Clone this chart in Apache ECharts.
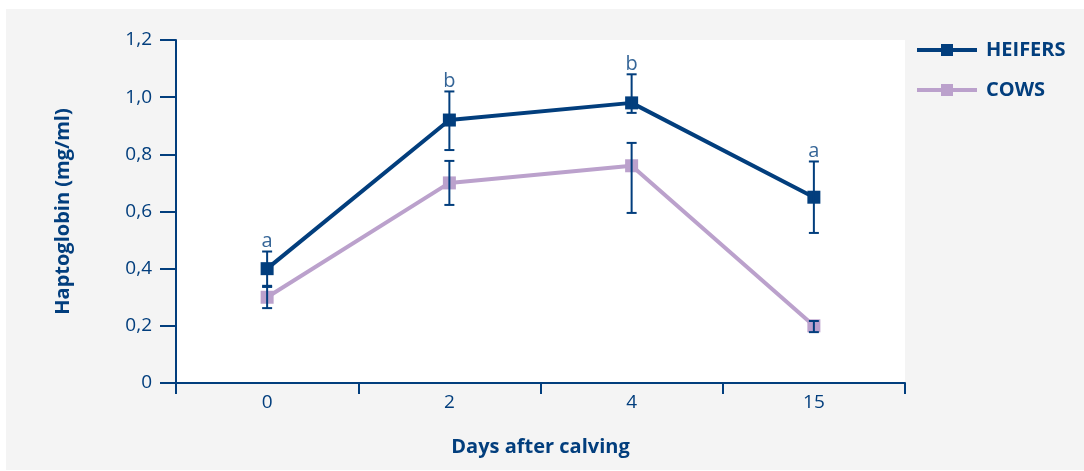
<!DOCTYPE html>
<html>
<head>
<meta charset="utf-8">
<script src="https://cdn.jsdelivr.net/npm/echarts@6/dist/echarts.min.js"></script>
<style>
html,body{margin:0;padding:0;background:#fff;}
#bg{position:absolute;left:6px;top:9px;width:1078px;height:461px;background:#f4f4f4;}
#chart{position:absolute;left:0;top:0;width:1084px;height:471px;}
</style>
</head>
<body>
<div id="bg"></div>
<div id="chart"></div>
<script>
const categories = ['0', '2', '4', '15'];
const heifers = [0.40, 0.92, 0.98, 0.65];
const cows = [0.30, 0.70, 0.76, 0.20];
const heifersErrLow = [0.34, 0.815, 0.945, 0.525];
const heifersErrHigh = [0.46, 1.02, 1.08, 0.775];
const cowsErrLow = [0.262, 0.623, 0.595, 0.178];
const cowsErrHigh = [0.336, 0.777, 0.84, 0.217];
const letters = ['a', 'b', 'b', 'a'];
const yTicks = [0, 0.2, 0.4, 0.6, 0.8, 1.0, 1.2];

const NAVY = '#023e7d';
const LILAC = '#bba1cc';
const FONT = '"Open Sans", "Noto Sans", sans-serif';

const errData = [];
categories.forEach((c, i) => {
  errData.push([i, heifersErrLow[i], heifersErrHigh[i]]);
  errData.push([i, cowsErrLow[i], cowsErrHigh[i]]);
});

function renderErr(params, api) {
  const x = api.value(0);
  const lo = api.coord([x, api.value(1)]);
  const hi = api.coord([x, api.value(2)]);
  const w = 5;
  const style = { stroke: NAVY, lineWidth: 2 };
  return {
    type: 'group',
    children: [
      { type: 'line', shape: { x1: hi[0], y1: hi[1], x2: lo[0], y2: lo[1] }, style },
      { type: 'line', shape: { x1: hi[0] - w, y1: hi[1], x2: hi[0] + w, y2: hi[1] }, style },
      { type: 'line', shape: { x1: lo[0] - w, y1: lo[1], x2: lo[0] + w, y2: lo[1] }, style }
    ]
  };
}

function fmtY(v) {
  const r = Math.round(v * 10) / 10;
  if (!yTicks.includes(r)) return '';
  if (r === 0) return '0';
  return r.toFixed(1).replace('.', ',');
}

const ICON = 'path://M0,4 L24,4 L24,0 L36,0 L36,4 L60,4 L60,8 L36,8 L36,12 L24,12 L24,8 L0,8 Z';

const chart = echarts.init(document.getElementById('chart'));
chart.setOption({
  animation: false,
  backgroundColor: 'transparent',
  textStyle: { fontFamily: FONT },
  grid: { left: 176, right: 179, top: 40, bottom: 88, show: true, backgroundColor: '#ffffff', borderWidth: 0 },
  legend: {
    left: 917, top: 40, orient: 'vertical', itemGap: 20, padding: 0,
    itemWidth: 60, itemHeight: 12,
    textStyle: { color: NAVY, fontSize: 20, fontWeight: 'bold', fontFamily: FONT, padding: [0, 0, 0, 4] },
    data: [
      { name: 'HEIFERS', icon: ICON },
      { name: 'COWS', icon: ICON }
    ]
  },
  xAxis: {
    type: 'category', data: categories, boundaryGap: true,
    name: 'Days after calving', nameLocation: 'middle', nameGap: 54,
    nameTextStyle: { color: NAVY, fontSize: 20, fontWeight: 'bold', fontFamily: FONT },
    axisLine: { lineStyle: { color: NAVY, width: 2 } },
    axisTick: { show: true, length: 11, alignWithLabel: false, lineStyle: { color: NAVY, width: 2 } },
    axisLabel: { color: NAVY, fontSize: 19, margin: 10, fontFamily: FONT },
    splitLine: { show: false }
  },
  yAxis: {
    type: 'value', min: 0, max: 1.2, interval: 0.2,
    name: 'Haptoglobin (mg/ml)', nameLocation: 'middle', nameGap: 103, nameRotate: 90,
    nameTextStyle: { color: NAVY, fontSize: 20, fontWeight: 'bold', fontFamily: FONT },
    axisLine: { show: true, lineStyle: { color: NAVY, width: 2 } },
    axisTick: { show: true, length: 16, lineStyle: { color: NAVY, width: 2 } },
    axisLabel: { color: NAVY, fontSize: 19, margin: 24, fontFamily: FONT, formatter: fmtY },
    splitLine: { show: false }
  },
  series: [
    {
      name: 'COWS', type: 'line', data: cows, z: 3,
      symbol: 'rect', symbolSize: 13, showAllSymbol: true,
      lineStyle: { color: LILAC, width: 4 }, itemStyle: { color: LILAC }
    },
    {
      name: 'HEIFERS', type: 'line', data: heifers, z: 4,
      symbol: 'rect', symbolSize: 13, showAllSymbol: true,
      lineStyle: { color: NAVY, width: 4 }, itemStyle: { color: NAVY }
    },
    {
      name: 'err', type: 'custom', data: errData, renderItem: renderErr, z: 5, silent: true
    },
    {
      name: 'letters', type: 'scatter', z: 6, symbolSize: 0, silent: true,
      data: categories.map((c, i) => [i, heifersErrHigh[i]]),
      label: {
        show: true, position: 'top', distance: 0, color: NAVY, fontSize: 20, fontFamily: FONT,
        formatter: p => letters[p.dataIndex]
      }
    }
  ]
});
</script>
</body>
</html>
